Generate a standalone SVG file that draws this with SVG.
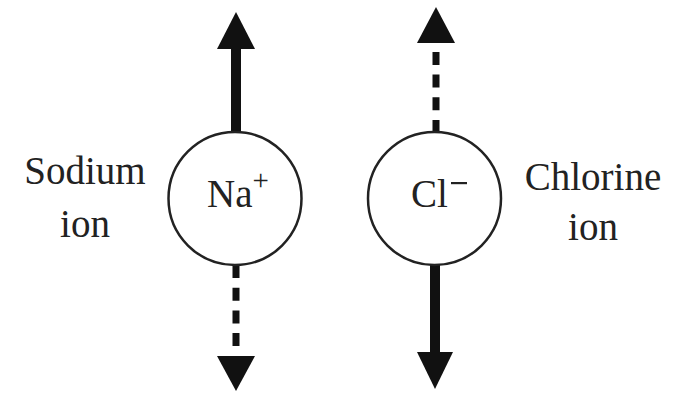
<svg xmlns="http://www.w3.org/2000/svg" width="679" height="393" viewBox="0 0 679 393">
<style>
.t{font-family:"Liberation Serif","Times New Roman",serif;fill:#222;font-size:39px}
.c{fill:#fff;stroke:#222;stroke-width:2.5}
.s{stroke:#111;stroke-width:10;fill:none}
.d{stroke:#111;stroke-width:7;fill:none;stroke-dasharray:13 9.7}
.h{fill:#111}
</style>
<rect width="679" height="393" fill="#fff"/>
<g id="connectors">
<line class="s" x1="236" y1="134" x2="236" y2="46"/>
<polygon class="h" points="236,12 255,49 217,49"/>
<line class="d" x1="236" y1="265" x2="236" y2="348"/>
<polygon class="h" points="236,391 255,356 217,356"/>
<line class="d" x1="436" y1="133" x2="436" y2="52"/>
<polygon class="h" points="436,7 455,43 417,43"/>
<line class="s" x1="435" y1="264" x2="435" y2="355"/>
<polygon class="h" points="435,389 453,352 417,352"/>
</g>
<g id="na">
<circle class="c" cx="235" cy="198.5" r="66.5"/>
<text class="t" x="207" y="207" font-size="38">Na<tspan font-size="29" dy="-17">+</tspan></text>
</g>
<g id="cl">
<circle class="c" cx="434.5" cy="198.5" r="66.5"/>
<text class="t" x="411" y="207" font-size="38">Cl</text>
<rect x="451" y="182" width="16" height="2.2" fill="#222"/>
</g>
<g id="sodium-label">
<text class="t" x="85" y="184" text-anchor="middle">Sodium</text>
<text class="t" x="85" y="237" text-anchor="middle">ion</text>
</g>
<g id="chlorine-label">
<text class="t" x="593" y="190" text-anchor="middle">Chlorine</text>
<text class="t" x="593" y="240" text-anchor="middle">ion</text>
</g>
</svg>
